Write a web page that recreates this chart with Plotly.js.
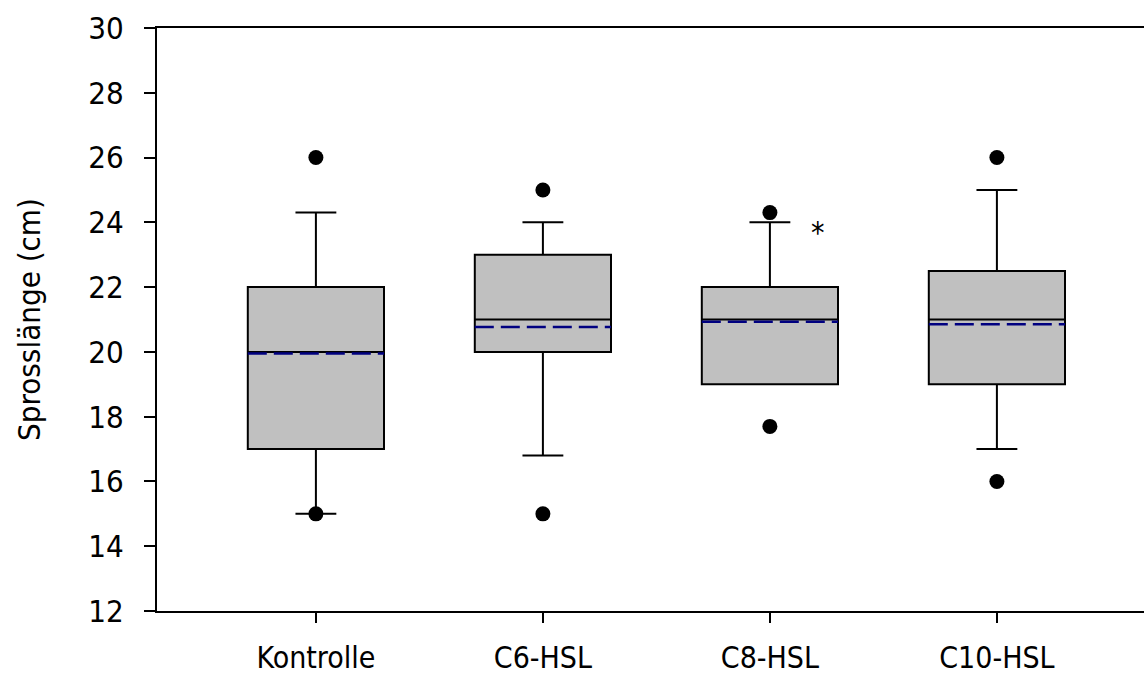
<!DOCTYPE html>
<html>
<head>
<meta charset="utf-8">
<script src="https://cdn.plot.ly/plotly-3.0.1.min.js"></script>
<style>html,body{margin:0;padding:0;overflow:hidden;background:#fff;}</style>
</head>
<body>
<div id="chart" style="width:1144px;height:677px;"></div>
<script>
const categories = ["Kontrolle", "C6-HSL", "C8-HSL", "C10-HSL"];
const q1 = [17, 20, 19, 19];
const median = [20, 21, 21, 21];
const q3 = [22, 23, 22, 22.5];
const lowerWhisker = [15, 16.8, 19, 17];
const upperWhisker = [24.3, 24, 24, 25];
const means = [19.95, 20.77, 20.93, 20.85];
const outlierCategory = [0, 0, 1, 1, 2, 2, 3, 3];
const outlierValues = [26, 15, 25, 15, 24.3, 17.7, 26, 16];
const significance = [{category: 2, value: 24, label: "*"}];

const positions = categories.map((c, i) => i);
const boxWidth = 0.6;

const meanX = [], meanY = [];
positions.forEach((p, i) => {
  meanX.push(p - boxWidth / 2, p + boxWidth / 2, null);
  meanY.push(means[i], means[i], null);
});

const FONT = "'DejaVu Sans Condensed', 'DejaVu Sans', Verdana, sans-serif";

const traces = [
  {
    type: "box",
    x: positions,
    q1: q1, median: median, q3: q3,
    lowerfence: lowerWhisker, upperfence: upperWhisker,
    width: boxWidth,
    whiskerwidth: 0.3,
    fillcolor: "#c0c0c0",
    line: {color: "#000", width: 2},
    boxpoints: false,
    hoverinfo: "skip",
    showlegend: false
  },
  {
    type: "scatter", mode: "lines",
    x: meanX, y: meanY,
    line: {color: "#000080", width: 2.5, dash: "19px,7px"},
    hoverinfo: "skip", showlegend: false
  },
  {
    type: "scatter", mode: "markers",
    x: outlierCategory, y: outlierValues,
    marker: {color: "#000", size: 15, symbol: "circle"},
    hoverinfo: "skip", showlegend: false
  }
];

const layout = {
  width: 1144, height: 677,
  margin: {l: 157, r: 0, t: 28, b: 66, pad: 0},
  paper_bgcolor: "#fff", plot_bgcolor: "#fff",
  font: {family: FONT, size: 31, color: "#000"},
  showlegend: false,
  xaxis: {
    type: "linear",
    range: [-0.7, 3.648],
    tickvals: positions, ticktext: categories,
    ticks: "outside", ticklen: 10, tickwidth: 2, tickcolor: "#000",
    ticklabelstandoff: 9,
    showline: true, linecolor: "#000", linewidth: 2, mirror: true,
    showgrid: false, zeroline: false,
    tickfont: {family: FONT, size: 30}
  },
  yaxis: {
    range: [12, 30],
    tickmode: "linear", tick0: 12, dtick: 2,
    ticks: "outside", ticklen: 11, tickwidth: 2, tickcolor: "#000",
    ticklabelstandoff: 14,
    showline: true, linecolor: "#000", linewidth: 2, mirror: false,
    showgrid: false, zeroline: false,
    tickfont: {family: FONT, size: 31},
    title: {text: "Sprosslänge (cm)", font: {family: FONT, size: 31}, standoff: 38}
  },
  annotations: significance.map(s => ({
    x: s.category + 0.21, y: s.value,
    xref: "x", yref: "y",
    text: s.label, showarrow: false,
    font: {family: FONT, size: 30, color: "#000"},
    xanchor: "center", yanchor: "middle", yshift: -10
  }))
};

Plotly.newPlot("chart", traces, layout, {displayModeBar: false, staticPlot: true});
</script>
</body>
</html>
